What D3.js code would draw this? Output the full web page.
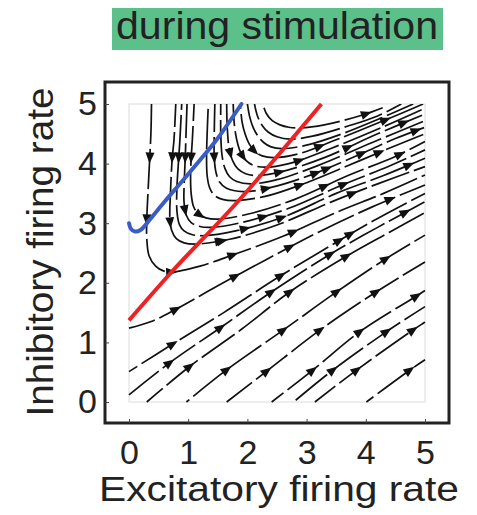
<!DOCTYPE html>
<html><head><meta charset="utf-8">
<script src="https://cdnjs.cloudflare.com/ajax/libs/d3/7.8.5/d3.min.js"></script>
<style>body{margin:0;background:#fff}</style></head>
<body><svg id="c" width="477" height="515"></svg>
<script>
const titleText = "during stimulation";
const xLabel = "Excitatory firing rate";
const yLabel = "Inhibitory firing rate";
const xTicks = [0,1,2,3,4,5];
const yTicks = [0,1,2,3,4,5];

// I-nullcline (red) and E-nullcline (blue)
const redNullcline = [[0,1.37],[0.7,2.16],[1.79,3.31],[3.25,5.0]];
const blueNullcline = [[0,3.0],[0.03,2.91],[0.1,2.86],[0.2,2.89],[0.35,3.06],[0.6,3.36],[0.92,3.73],[1.2,4.06],[1.48,4.4],[1.9,5.0]];

// streamlines descending from the top edge
const topCurves = [
 [[0.38,5],[0.37,4.5],[0.35,4.09],[0.32,3.5],[0.30,3.05],[0.30,2.75],[0.34,2.45],[0.45,2.28],[0.58,2.2],[0.72,2.18],[1.2,2.28],[1.76,2.47],[2.6,2.78],[3.5,3.18],[4.3,3.5],[5,3.81]],
 [[0.79,5],[0.76,4.4],[0.73,4.09],[0.70,3.5],[0.69,3.1],[0.72,2.88],[0.8,2.74],[0.93,2.67],[1.14,2.65],[1.7,2.73],[2.5,2.97],[3.4,3.35],[4.2,3.66],[5,3.95]],
 [[0.89,5],[0.86,4.4],[0.84,4.09],[0.81,3.6],[0.81,3.2],[0.85,2.98],[0.93,2.87],[1.06,2.81],[1.27,2.79],[1.8,2.87],[2.6,3.1],[3.5,3.5],[4.3,3.8],[5,4.09]],
 [[0.98,5],[0.96,4.4],[0.95,4.09],[0.93,3.6],[0.93,3.35],[0.97,3.13],[1.05,3.01],[1.18,2.95],[1.39,2.93],[1.9,3.01],[2.7,3.25],[3.6,3.64],[4.4,3.96],[5,4.23]],
 [[1.10,5],[1.07,4.4],[1.05,4.09],[1.04,3.75],[1.05,3.5],[1.09,3.28],[1.17,3.16],[1.3,3.09],[1.52,3.07],[2.0,3.15],[2.8,3.4],[3.7,3.8],[4.5,4.12],[5,4.37]],
 [[1.34,5],[1.32,4.5],[1.31,4.1],[1.32,3.8],[1.36,3.6],[1.44,3.47],[1.58,3.4],[1.80,3.38],[2.3,3.45],[3.0,3.68],[3.9,4.05],[4.5,4.3],[5,4.5]],
 [[1.45,5],[1.44,4.5],[1.44,4.1],[1.47,3.85],[1.53,3.69],[1.64,3.59],[1.93,3.53],[2.4,3.6],[3.1,3.82],[4.0,4.2],[4.5,4.42],[5,4.61]],
 [[1.55,5],[1.55,4.5],[1.57,4.15],[1.62,3.92],[1.7,3.78],[1.82,3.7],[2.05,3.66],[2.5,3.73],[3.2,3.97],[4.1,4.35],[5,4.72]],
 [[1.65,5],[1.66,4.6],[1.69,4.27],[1.75,4.05],[1.84,3.91],[1.97,3.83],[2.17,3.8],[2.6,3.87],[3.3,4.1],[4.2,4.5],[5,4.83]],
 [[1.76,5],[1.78,4.65],[1.82,4.4],[1.88,4.2],[1.98,4.05],[2.1,3.97],[2.30,3.94],[2.7,4.0],[3.4,4.25],[4.3,4.62],[5,4.93]],
 [[1.88,5],[1.91,4.7],[1.96,4.5],[2.03,4.33],[2.13,4.2],[2.25,4.13],[2.44,4.1],[2.85,4.16],[3.5,4.4],[4.3,4.72],[4.97,5]],
 [[2.0,5],[2.04,4.78],[2.1,4.6],[2.18,4.46],[2.28,4.35],[2.4,4.28],[2.58,4.25],[3.0,4.31],[3.6,4.5],[4.2,4.74],[4.8,5]],
 [[2.12,5],[2.17,4.8],[2.25,4.64],[2.35,4.53],[2.5,4.45],[2.72,4.41],[3.1,4.46],[3.7,4.63],[4.2,4.8],[4.6,5]],
 [[2.26,5],[2.32,4.84],[2.42,4.72],[2.55,4.65],[2.7,4.61],[2.89,4.6],[3.3,4.65],[3.96,4.82],[4.32,4.95]]
];

// streamlines entering from the left and bottom edges
const lowCurves = [
 [[0,1.24],[0.4,1.36],[0.8,1.56],[1.5,1.95],[2.3,2.38],[3.2,2.85],[4.1,3.27],[5,3.64]],
 [[0,0.51],[0.75,0.98],[1.6,1.5],[2.5,2.08],[3.4,2.62],[4.2,3.08],[5,3.5]],
 [[0,0.12],[0.69,0.66],[1.55,1.25],[2.41,1.85],[3.4,2.48],[4.2,2.93],[5,3.36]],
 [[0.3,0],[1.03,0.6],[1.9,1.22],[2.72,1.85],[3.68,2.45],[4.4,2.85],[5,3.18]],
 [[0.97,0],[1.65,0.54],[2.61,1.21],[3.51,1.85],[4.35,2.41],[5,2.8]],
 [[1.65,0],[2.33,0.52],[3.23,1.21],[4.18,1.85],[5,2.35]],
 [[2.41,0],[3.11,0.54],[3.9,1.18],[4.86,1.78],[5,1.87]],
 [[2.78,0],[3.45,0.54],[4.35,1.18],[5,1.6]],
 [[3.14,0],[3.85,0.54],[4.8,1.21],[5,1.34]],
 [[4.01,0],[4.75,0.54],[5,0.71]]
];

// arrowhead locations
const arrowPoints = [
 [0.35,4.09],[0.73,4.09],[0.84,4.09],[0.95,4.09],[1.05,4.09],[1.44,4.09],[1.66,4.15],
 [0.30,3.05],[0.71,3.0],[0.95,3.2],[1.2,3.12],[0.72,2.18],[1.54,2.7],[1.76,2.47],
 [1.96,4.14],[2.16,4.26],[3.23,4.3],[2.89,4.03],[2.55,3.84],[3.17,3.81],[2.89,3.64],[2.33,3.55],
 [4.02,4.84],[4.35,4.70],[4.66,4.65],[4.86,4.56],[3.68,4.31],[3.96,4.14],[4.27,4.12],[4.6,4.14],[4.72,4.0],
 [3.34,3.92],[3.65,3.62],[3.79,3.5],[3.28,3.67],
 [2.27,3.1],[2.58,3.11],[1.96,2.91],[2.75,2.94],[1.59,2.66],[2.72,2.61],[1.79,2.13],[2.52,2.19],[2.41,1.85],[2.72,1.85],
 [3.11,0.54],[3.45,0.54],[3.85,0.54],[4.75,0.54],[2.33,0.52],[3.23,1.21],[3.9,1.18],[4.35,1.18],[4.8,1.21],[2.61,1.21],
 [4.18,1.85],[3.51,1.85],[4.86,1.78],[3.4,2.49],[3.68,2.45],[4.35,2.41],[3.51,2.77],
 [0.8,1.56],[0.75,0.98],[0.69,0.66],[1.03,0.6],[1.65,0.54],[1.55,1.25],
 [4.69,3.17],[4.44,3.36],[3.7,2.91]
];

const x = d3.scaleLinear().domain([0,5]).range([129,425]);
const y = d3.scaleLinear().domain([0,5]).range([402,104]);
const svg = d3.select("#c");
const font = "'Liberation Sans', Arial, sans-serif";
const ink = "#222";

// title
svg.append("rect").attr("x",112).attr("y",8).attr("width",331).attr("height",42).attr("fill","#5cc08a");
svg.append("text").attr("x",277).attr("y",38.5).attr("text-anchor","middle")
  .attr("font-family",font).attr("font-size",38).attr("fill",ink)
  .attr("textLength",322).attr("lengthAdjust","spacingAndGlyphs").text(titleText);

// light plot-range box
svg.append("rect").attr("x",x(0)).attr("y",y(5)).attr("width",x(5)-x(0)).attr("height",y(0)-y(5))
  .attr("fill","none").attr("stroke","#dcdcdc").attr("stroke-width",1);

// clip
svg.append("clipPath").attr("id","clip").append("rect")
  .attr("x",x(0)-2).attr("y",y(5)).attr("width",x(5)-x(0)+4).attr("height",y(0)-y(5)+2);

const line = d3.line().x(d=>x(d[0])).y(d=>y(d[1])).curve(d3.curveCatmullRom.alpha(0.5));
const g = svg.append("g").attr("clip-path","url(#clip)");
const all = topCurves.concat(lowCurves);
const paths = g.selectAll("path.s").data(all).join("path").attr("class","s")
  .attr("d",line).attr("fill","none").attr("stroke","#111").attr("stroke-width",1.7)
  .attr("stroke-dasharray","40 5").attr("stroke-dashoffset",(d,i)=>(i*17)%45);

// sample paths
const samples = [];
paths.each(function(){
  const L = this.getTotalLength();
  for (let s=0; s<=L; s+=1) {
    const p = this.getPointAtLength(s);
    const a = this.getPointAtLength(Math.max(0,s-2)), b = this.getPointAtLength(Math.min(L,s+2));
    samples.push({x:p.x,y:p.y,ang:Math.atan2(b.y-a.y,b.x-a.x)});
  }
});
const arrowG = svg.append("g");
arrowPoints.forEach(pt=>{
  const px=x(pt[0]), py=y(pt[1]);
  let best=null, bd=1e9;
  samples.forEach(s=>{const d=(s.x-px)**2+(s.y-py)**2; if(d<bd){bd=d;best=s;}});
  const c=Math.cos(best.ang), s=Math.sin(best.ang);
  const len=11, hw=4.5;
  const tip=[best.x+c*len*0.5, best.y+s*len*0.5];
  const bx=best.x-c*len*0.5, by=best.y-s*len*0.5;
  const p1=[bx - s*hw, by + c*hw], p2=[bx + s*hw, by - c*hw];
  arrowG.append("path").attr("d",`M${tip[0]},${tip[1]}L${p1[0]},${p1[1]}L${p2[0]},${p2[1]}Z`).attr("fill","#111");
});

// nullclines
svg.append("path").datum(redNullcline).attr("d",d3.line().x(d=>x(d[0])).y(d=>y(d[1])).curve(d3.curveMonotoneX))
  .attr("fill","none").attr("stroke","#ee2222").attr("stroke-width",4);
svg.append("path").datum(blueNullcline).attr("d",d3.line().x(d=>x(d[0])).y(d=>y(d[1])).curve(d3.curveCatmullRom.alpha(0.5)))
  .attr("fill","none").attr("stroke","#3b5cc4").attr("stroke-width",4).attr("stroke-linecap","round");

// frame
svg.append("rect").attr("x",105).attr("y",82).attr("width",344).attr("height",341)
  .attr("fill","none").attr("stroke",ink).attr("stroke-width",3);

// axes
const ax = svg.append("g").attr("transform","translate(0,423)")
  .call(d3.axisBottom(x).tickValues(xTicks).tickFormat(d3.format("d")).tickSizeInner(-4).tickSizeOuter(0).tickPadding(17));
const ay = svg.append("g").attr("transform","translate(105,0)")
  .call(d3.axisLeft(y).tickValues(yTicks).tickFormat(d3.format("d")).tickSizeInner(-4).tickSizeOuter(0).tickPadding(8));
[ax,ay].forEach(a=>{
  a.select(".domain").remove();
  a.selectAll(".tick line").attr("stroke","#444");
  a.selectAll(".tick text").attr("font-family",font).attr("font-size",34).attr("fill",ink);
});

// axis titles
svg.append("text").attr("x",279).attr("y",501).attr("text-anchor","middle")
  .attr("font-family",font).attr("font-size",35).attr("fill",ink)
  .attr("textLength",360).attr("lengthAdjust","spacingAndGlyphs").text(xLabel);
svg.append("text").attr("transform","translate(53,252) rotate(-90)").attr("text-anchor","middle")
  .attr("font-family",font).attr("font-size",37).attr("fill",ink)
  .attr("textLength",329).attr("lengthAdjust","spacingAndGlyphs").text(yLabel);
</script></body></html>
